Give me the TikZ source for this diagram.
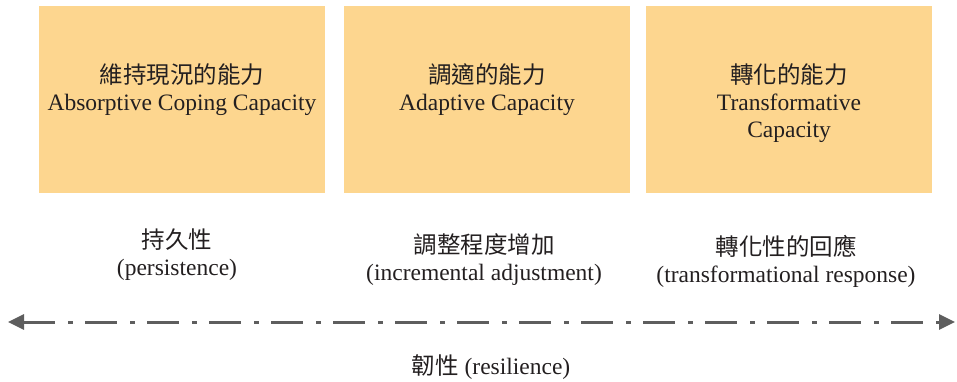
\documentclass[tikz,border=0pt]{standalone}
\usepackage{fontspec}
\setmainfont{Liberation Serif}
\newfontfamily\cjk{Noto Sans CJK TC}
\usetikzlibrary{positioning,arrows.meta}
\definecolor{capfill}{HTML}{FDD68F}
\definecolor{captext}{HTML}{231F20}
\definecolor{axisgray}{HTML}{5E5E5E}
\tikzset{
    every node/.style={font=\fontsize{23.5}{27}\selectfont,text=captext,inner sep=0pt},
    capbox/.style={rectangle,fill=capfill,minimum width=286pt,minimum height=187pt},
    boxtext/.style={align=center,anchor=base},
    levellabel/.style={align=center,anchor=base},
    resaxis/.style={draw=axisgray,line width=3pt,
        dash pattern=on 32pt off 13pt on 5pt off 12pt,
        {Triangle[length=16pt,width=15pt]}-{Triangle[length=16pt,width=15pt]}}
}

\begin{document}
\begin{tikzpicture}[x=1pt,y=-1pt]
\useasboundingbox (0,0) rectangle (957,381);
% three capacities (base = last line)
\node[capbox] (absorb) at (182,99.5) {};
\node[capbox] (adapt) at (487,99.5) {};
\node[capbox] (transf) at (789,99.5) {};
\node[boxtext] (absorbtxt) at (182,110) {{\cjk 維持現況的能力}\\Absorptive Coping Capacity};
\node[boxtext] (adapttxt) at (487,110) {{\cjk 調適的能力}\\Adaptive Capacity};
\node[boxtext] (transftxt) at (789,137) {{\cjk 轉化的能力}\\Transformative\\Capacity};
% what each capacity leads to
\node[levellabel] (persist) at (177,275) {{\cjk 持久性}\\(persistence)};
\node[levellabel] (increm) at (484,280) {{\cjk 調整程度增加}\\(incremental adjustment)};
\node[levellabel] (transresp) at (786,282) {{\cjk 轉化性的回應}\\(transformational response)};
% resilience axis
\coordinate (west) at (8,322);
\coordinate (east) at (955,322);
\draw[resaxis] (west) -- (east);
\node[anchor=base] (resil) at (491,374) {{\cjk 韌性} (resilience)};
\end{tikzpicture}
\end{document}
